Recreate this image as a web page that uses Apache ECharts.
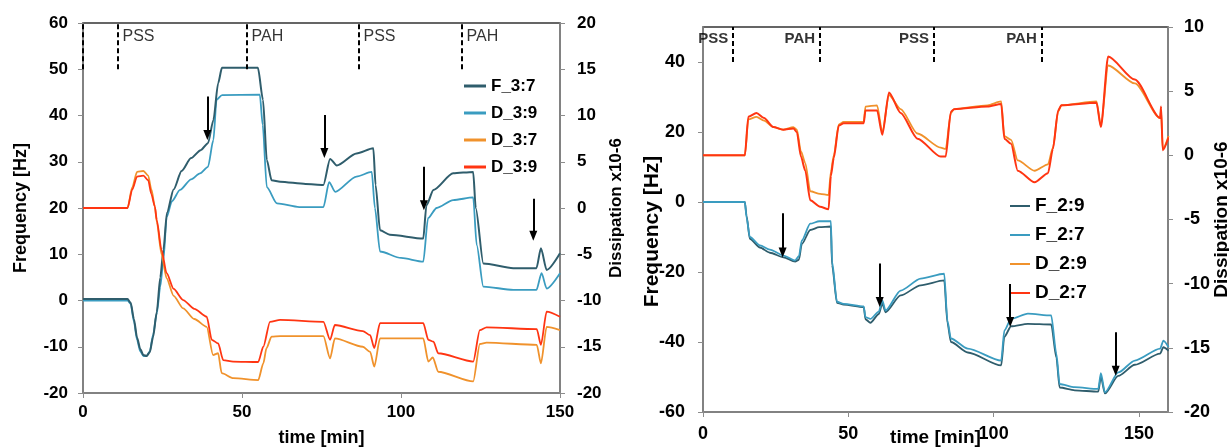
<!DOCTYPE html>
<html>
<head>
<meta charset="utf-8">
<script src="https://cdn.jsdelivr.net/npm/echarts@6/dist/echarts.min.js"></script>
<style>
html, body { margin: 0; padding: 0; background: #fff; }
#qcmChart { width: 1229px; height: 447px; }
</style>
</head>
<body>
<div id="qcmChart"></div>
<script>
// ---- left panel : 3 layers ----
var leftF37 = [[0,0.3],[14,0.3],[15,-0.5],[16,-4],[17,-8],[18,-10.5],[19,-11.8],[20,-12],[21,-11.2],[22,-8],[23.2,-2.5],[24.3,5],[25.3,11],[26.4,19],[28.5,24],[31,28],[34,30.8],[37,32.5],[39.3,34],[41,39],[42.5,47],[43.7,50.3],[55,50.3],[56.6,43.4],[57.8,30.4],[59.3,26],[62,25.7],[70,25.2],[75.6,25],[77.7,30.6],[79.8,29.2],[86,31.8],[91.3,32.9],[92,25],[93.4,15.2],[96.5,14.2],[107,13.4],[108,20.6],[110.2,23.9],[116.4,27.5],[122.7,27.8],[123.5,20],[125.9,8],[135.3,7],[142.6,7],[144,11.3],[145.8,6.6],[150,10.2]];
var leftF39 = [[0,0],[14,0],[15,-0.7],[16,-4.5],[17,-8.5],[18,-11],[19,-12],[20,-12],[21,-11],[22,-7.5],[23.2,-2.8],[24.3,3],[25.3,8.8],[26.3,18],[28,21.5],[30.5,23.9],[34,26.2],[36.8,27.5],[39.3,28.9],[41,34.7],[42,43.4],[43.7,44.4],[55.6,44.5],[56.5,38],[57.8,24.5],[61,21],[68,20.2],[75.6,20.2],[77.4,25.6],[79.3,23.5],[86,26.8],[90.8,27.8],[91.8,20],[93.4,10.6],[100,9.2],[107,8.4],[108.5,17.8],[111.2,20],[116.4,21.7],[122.7,22.3],[123.8,12],[125.9,3],[135.3,2.3],[142.6,2.3],[144.2,5.9],[145.8,2.6],[150,5.9]];
var leftD37 = [[0,0],[14,0],[15.5,2.25],[17,3.9],[19,4],[20.5,3.5],[21.5,2],[22.6,0.15],[23.2,-1.5],[24.7,-5],[26.3,-7.6],[28.5,-9.5],[31.5,-10.85],[35,-12],[38.9,-12.85],[40.9,-15.9],[42.5,-15.7],[43.6,-17.85],[47.3,-18.4],[55.1,-18.6],[56.7,-16.8],[57.7,-15.15],[59.3,-13.9],[62,-13.85],[75.6,-13.85],[77.7,-16.25],[79.2,-14.1],[88,-15],[90.3,-15.55],[91.6,-17.15],[93.4,-14.1],[107,-14.1],[108.6,-16.6],[110,-16.15],[111.7,-17.7],[122.7,-18.75],[124.8,-14.7],[126.9,-14.55],[142.7,-14.8],[144,-16.8],[145.8,-12.85],[150,-13.2]];
var leftD39 = [[0,0],[14,0],[15.5,2],[17,3.4],[19,3.5],[20.5,3],[21.5,1.5],[22.6,0.15],[23.2,-1.3],[24.7,-4.55],[26.3,-7.05],[28.5,-8.75],[31.5,-9.95],[35,-10.9],[38.9,-11.75],[40.5,-14.25],[42.5,-14.65],[44.1,-16.45],[47.2,-16.6],[55.1,-16.65],[56.7,-15],[58.8,-12.3],[62,-12.1],[75.6,-12.3],[77.7,-14.25],[79.2,-12.65],[88,-13.3],[90.3,-13.75],[91.6,-15.15],[93.4,-12.45],[107,-12.45],[108.6,-14.25],[110.2,-14.45],[111.7,-15.7],[122.7,-16.6],[124.8,-13.2],[126.9,-12.9],[142.7,-13.1],[144,-14.8],[145.8,-11.2],[150,-11.75]];
var leftKeys = ['F_3:7', 'F_3:9', 'D_3:7', 'D_3:9'];
var leftLegend = ['F_3:7', 'D_3:9', 'D_3:7', 'D_3:9'];
// step lines (x) and labels
var leftStepX = [0, 11, 51.6, 86.8, 119.2];
var leftStepLabelX = [11, 51.6, 86.8, 119.2];
var leftStepLabels = ['PSS', 'PAH', 'PSS', 'PAH'];
// arrows [x, yFrom, yTo] on frequency axis
var leftArrows = [[39.1, 44.1, 35.8], [75.9, 40.1, 31.9], [107.2, 28.9, 20.6], [141.6, 22, 14]];

// ---- right panel : 2 layers ----
var rightF29 = [[0,0],[14.4,0],[15,-4],[16.1,-10.5],[19.6,-13],[23,-14.5],[27.7,-15.8],[31.7,-17],[33,-16.5],[34,-12],[36.9,-8],[40,-7.2],[44,-7],[44.4,-18],[46.1,-28.8],[48.4,-29.3],[55.3,-30],[55.9,-33.5],[57.6,-34.5],[60.5,-32],[61.7,-29],[62.8,-31.5],[68,-26.7],[74.9,-23.8],[83,-22.4],[84.1,-34.5],[85.3,-40],[91.1,-43],[102.6,-46.7],[103.7,-38.5],[106,-35.5],[111.8,-34.8],[119.8,-35],[121.6,-44.5],[122.7,-53],[127.9,-53.8],[136,-54.2],[136.9,-50],[138.3,-54.7],[142.9,-49.7],[148.6,-46.5],[157.3,-43.3],[158.4,-41.5],[160.2,-42.5]];
var rightF27 = [[0,0],[14.4,0],[15,-4.5],[16.1,-10],[19.6,-12.4],[23,-13.6],[27.7,-15.3],[31.7,-16.7],[33,-15.5],[34,-11],[36.9,-6.2],[40,-5.5],[44,-5.5],[44.4,-17],[46.1,-28.5],[48.4,-29.1],[55.3,-29.8],[55.9,-32.9],[57.6,-33.4],[60.5,-31.3],[61.7,-28.1],[62.8,-31],[68,-25.3],[74.9,-21.9],[83,-20.5],[84.1,-33.9],[85.3,-39],[91.1,-41.9],[102.6,-45.3],[103.7,-36.7],[106,-33.4],[111.8,-31.9],[119.8,-32.4],[121.6,-43.4],[122.7,-52],[127.9,-52.9],[136,-53.4],[136.9,-48.9],[138.3,-54.4],[142.9,-48.7],[148.6,-45.3],[157.3,-41.9],[158.4,-39.6],[160.2,-41.5]];
var rightD29 = [[0,0],[14.4,0],[15.6,2.8],[18.4,3],[21,2.7],[24.2,2.2],[27.6,2],[31.1,2.2],[32.3,2],[33.7,0.3],[35.2,-0.6],[36.9,-2.8],[40.3,-3],[43.2,-3.1],[44,-1.3],[45,0],[46.7,2.4],[48.4,2.6],[55.3,2.6],[55.9,3.8],[59.9,3.9],[61.7,1.8],[64,4.7],[68,3.6],[73.8,1.7],[81.8,0.6],[83.5,0.5],[85.3,3.3],[86.4,3.6],[97.9,3.9],[102.6,4.2],[103.7,1.5],[106,1.2],[108.3,-0.4],[114.1,-1.2],[118.7,-0.7],[120.4,0.6],[122.2,3.4],[123.3,3.9],[135.4,4.2],[136.9,2.3],[139.4,7],[148.6,5.6],[157.3,2.9],[157.6,3.5],[158.2,0.5],[160.2,1.5]];
var rightD27 = [[0,0],[14.4,0],[15.6,3],[18.4,3.3],[21,2.9],[24.2,2.2],[27.6,2],[31.1,2.1],[32.3,1.8],[33.7,-0.1],[35.2,-1.2],[36.9,-3.5],[40.3,-4],[43.2,-4.2],[44,-1.6],[45,-0.2],[46.7,2.3],[48.4,2.5],[55.3,2.5],[55.9,3.5],[59.9,3.5],[61.7,1.6],[64,4.9],[68,3.3],[73.8,1.3],[81.8,-0.1],[83.5,-0.1],[85.3,3.4],[86.4,3.6],[97.9,3.8],[102.6,4],[103.7,1.3],[106,0.9],[108.3,-1.2],[114.1,-2.1],[118.7,-1.4],[120.4,0.5],[122.2,3.5],[123.3,3.9],[135.4,4.1],[136.9,2.2],[139.4,7.7],[148.6,5.9],[157.3,2.9],[157.6,3.8],[158.2,0.4],[160.2,1.4]];
var rightKeys = ['F_2:9', 'F_2:7', 'D_2:9', 'D_2:7'];
var rightStepX = [10.2, 40.1, 79.3, 116.4];
var rightStepLabels = ['PSS', 'PAH', 'PSS', 'PAH'];
var rightArrows = [[27.4, -3.2, -14.4], [60.8, -17.6, -28.6], [105.7, -23.4, -34.3], [142, -37.2, -48.2]];

var colDark = '#2f5d6c', colLight = '#3a9cc0', colOrange = '#f0922c', colRed = '#ff3512';
var axisGray = '#8c8c8c';
var fontName = 'Liberation Sans';

var myChart;
chartInit();

// 轴通用设置
function valueAxis(o) {
	var axis = {
		type : 'value',
		splitLine : { show : false },
		axisLine : { show : true, onZero : false, lineStyle : { color : axisGray, width : 1.5 } },
		axisTick : { show : true, inside : false, length : 5, lineStyle : { color : axisGray } },
		axisLabel : { color : '#000', fontWeight : 'bold', fontFamily : fontName, fontSize : 17 },
		nameTextStyle : { color : '#000', fontWeight : 'bold', fontFamily : fontName },
		nameLocation : 'middle',
		nameMoveOverlap : false
	};
	for (var k in o) {
		if (typeof o[k] === 'object' && axis[k] && !Array.isArray(o[k])) {
			for (var j in o[k]) axis[k][j] = o[k][j];
		} else {
			axis[k] = o[k];
		}
	}
	return axis;
}
function curve(name, xi, yi, color, data, width) {
	return {
		name : name, type : 'line', xAxisIndex : xi, yAxisIndex : yi,
		data : data, showSymbol : false, symbol : 'none', smooth : 0.25, smoothMonotone : 'x',
		lineStyle : { color : color, width : width }, itemStyle : { color : color },
		silent : true
	};
}
// 虚线 + 箭头
function markerSeries(xi, yi, steps, yFrom, yTo, arrows) {
	var ml = [];
	for (var i = 0; i < steps.length; i++) {
		ml.push([{ coord : [steps[i], yFrom], symbol : 'none' }, { coord : [steps[i], yTo], symbol : 'none',
			lineStyle : { type : [5, 3], width : 2, color : '#000' } }]);
	}
	for (var j = 0; j < arrows.length; j++) {
		ml.push([{ coord : [arrows[j][0], arrows[j][1]], symbol : 'none' }, { coord : [arrows[j][0], arrows[j][2]], symbol : 'triangle', symbolSize : [8, 10],
			lineStyle : { type : 'solid', width : 2, color : '#000' } }]);
	}
	return {
		type : 'line', xAxisIndex : xi, yAxisIndex : yi, data : [], silent : true,
		markLine : { silent : true, symbol : 'none', label : { show : false }, animation : false,
			lineStyle : { color : '#000', width : 2 }, data : ml }
	};
}
function labelSeries(xi, yi, xs, y, names, pos, bold, size) {
	var d = [];
	for (var i = 0; i < xs.length; i++) d.push({ value : [xs[i], y], name : names[i] });
	return {
		type : 'scatter', xAxisIndex : xi, yAxisIndex : yi, data : d, symbolSize : 1, silent : true,
		itemStyle : { color : 'rgba(0,0,0,0)' },
		label : { show : true, position : pos, distance : 4, formatter : '{b}', color : '#000',
			fontFamily : fontName, fontSize : size, fontWeight : bold ? 'bold' : 'normal' }
	};
}

function chartInit() {
	myChart = echarts.init(document.getElementById('qcmChart'), null, { renderer : 'canvas' });
	var option = {
		animation : false,
		backgroundColor : '#fff',
		grid : [
			{ left : 83, top : 23, width : 477, height : 370, outerBoundsMode : 'none', containLabel : false,
				show : true, borderColor : '#333', borderWidth : 1.5, backgroundColor : 'transparent' },
			{ left : 703, top : 27, width : 465, height : 385, outerBoundsMode : 'none', containLabel : false,
				show : true, borderColor : '#333', borderWidth : 1.5, backgroundColor : 'transparent' }
		],
		legend : [{
			data : leftKeys, orient : 'vertical', left : 459, top : 72, itemWidth : 22, itemHeight : 3, itemGap : 9,
			icon : 'rect', selectedMode : false,
			textStyle : { fontFamily : fontName, fontWeight : 'bold', fontSize : 17, lineHeight : 18, color : '#000' },
			formatter : function(n) { return leftLegend[leftKeys.indexOf(n)]; }
		}, {
			data : rightKeys, orient : 'vertical', left : 1005, top : 191, itemWidth : 20, itemHeight : 2, itemGap : 9,
			icon : 'rect', selectedMode : false,
			textStyle : { fontFamily : fontName, fontWeight : 'bold', fontSize : 19, lineHeight : 20, color : '#000' }
		}],
		xAxis : [
			valueAxis({ gridIndex : 0, min : 0, max : 150, interval : 50, name : 'time [min]', nameGap : 36,
				nameTextStyle : { fontSize : 18 }, axisLabel : { margin : 11 } }),
			valueAxis({ gridIndex : 1, min : 0, max : 160, interval : 50, name : 'time [min]', nameGap : 16,
				nameTextStyle : { fontSize : 19 }, axisLabel : { margin : 13, fontSize : 18, showMaxLabel : false } })
		],
		yAxis : [
			valueAxis({ gridIndex : 0, min : -20, max : 60, interval : 10, name : 'Frequency [Hz]', nameGap : 53,
				nameTextStyle : { fontSize : 18 }, axisLabel : { margin : 15 } }),
			valueAxis({ gridIndex : 0, position : 'right', min : -20, max : 20, interval : 5, name : 'Dissipation x10-6',
				nameGap : 48, nameRotate : 90, nameTextStyle : { fontSize : 17 }, axisLabel : { margin : 17 } }),
			valueAxis({ gridIndex : 1, min : -60, max : 50, interval : 20, name : 'Frequency [Hz]', nameGap : 40,
				nameTextStyle : { fontSize : 21, padding : [0, 24, 0, 0] }, axisLabel : { margin : 18, fontSize : 18, showMaxLabel : false } }),
			valueAxis({ gridIndex : 1, position : 'right', min : -20, max : 10, interval : 5, name : 'Dissipation x10-6',
				nameGap : 44, nameRotate : 90, nameTextStyle : { fontSize : 19 }, axisLabel : { margin : 16, fontSize : 18 } })
		],
		series : [
			curve('F_3:9', 0, 0, colLight, leftF39, 1.8),
			curve('F_3:7', 0, 0, colDark, leftF37, 2),
			curve('D_3:7', 0, 1, colOrange, leftD37, 1.8),
			curve('D_3:9', 0, 1, colRed, leftD39, 1.8),
			curve('F_2:9', 1, 2, colDark, rightF29, 1.8),
			curve('F_2:7', 1, 2, colLight, rightF27, 1.8),
			curve('D_2:9', 1, 3, colOrange, rightD29, 1.8),
			curve('D_2:7', 1, 3, colRed, rightD27, 2),
			markerSeries(0, 0, leftStepX, 50, 60, leftArrows),
			markerSeries(1, 2, rightStepX, 40, 50, rightArrows),
			labelSeries(0, 0, leftStepLabelX, 57, leftStepLabels, 'right', false, 16),
			labelSeries(1, 2, rightStepX, 46.6, rightStepLabels, 'left', true, 15)
		]
	};
	myChart.setOption(option);
}
</script>
</body>
</html>
